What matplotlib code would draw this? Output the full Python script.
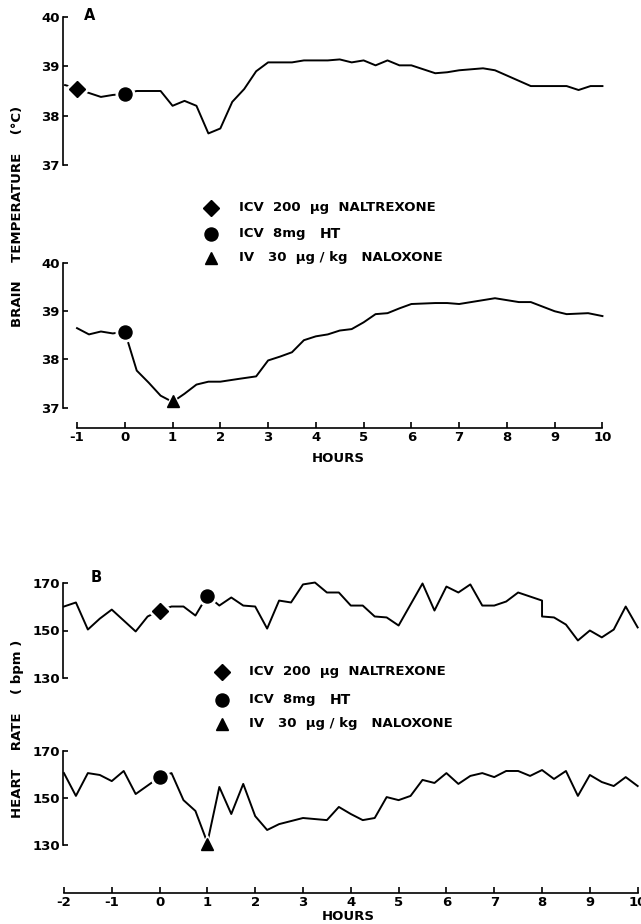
import numpy as np
import matplotlib
matplotlib.use("Agg")
import matplotlib.pyplot as plt

plt.rcParams['font.family'] = ['DejaVu Sans']
plt.rcParams['axes.unicode_minus'] = False

# panel A, upper trace: brain temperature (deg C) vs hours
a1_hours = [-1.25, -1.0, -0.75, -0.5, -0.25, 0.0, 0.25, 0.75, 1.0, 1.25, 1.5, 1.75, 2.0,
            2.25, 2.5, 2.75, 3.0, 3.5, 3.75, 4.0, 4.25, 4.5, 4.75, 5.0, 5.25, 5.5, 5.75,
            6.0, 6.5, 6.75, 7.0, 7.5, 7.75, 8.5, 9.25, 9.5, 9.75, 10.0]
a1_temp = [38.62, 38.55, 38.46, 38.38, 38.42, 38.44, 38.5, 38.5, 38.2, 38.3, 38.2, 37.64, 37.74,
           38.28, 38.54, 38.9, 39.08, 39.08, 39.12, 39.12, 39.12, 39.14, 39.08, 39.12, 39.02, 39.12, 39.02,
           39.02, 38.86, 38.88, 38.92, 38.96, 38.92, 38.6, 38.6, 38.52, 38.6, 38.6]

# panel A, lower trace
a2_hours = [-1.0, -0.75, -0.5, -0.25, 0.0, 0.25, 0.5, 0.75, 1.0, 1.25, 1.5, 1.75, 2.0, 2.4,
            2.75, 3.0, 3.25, 3.5, 3.75, 4.0, 4.25, 4.5, 4.75, 5.0, 5.25, 5.5, 5.75, 6.0,
            6.5, 6.75, 7.0, 7.25, 7.75, 8.0, 8.25, 8.5, 9.0, 9.25, 9.7, 10.0]
a2_temp = [38.65, 38.52, 38.58, 38.54, 38.58, 37.77, 37.52, 37.25, 37.12, 37.29, 37.48, 37.54, 37.54, 37.6,
           37.65, 37.98, 38.06, 38.15, 38.4, 38.48, 38.52, 38.6, 38.63, 38.77, 38.94, 38.96, 39.06, 39.15,
           39.17, 39.17, 39.15, 39.19, 39.27, 39.23, 39.19, 39.19, 39.0, 38.94, 38.96, 38.9]

# panel B, upper trace: heart rate (bpm)
b1_hours = [-2.0, -1.75, -1.5, -1.25, -1.0, -0.75, -0.5, -0.25, 0.0, 0.25, 0.5, 0.75,
            1.0, 1.25, 1.5, 1.75, 2.0, 2.25, 2.5, 2.75, 3.0, 3.25, 3.5, 3.75,
            4.0, 4.25, 4.5, 4.75, 5.0, 5.5, 5.75, 6.0, 6.25, 6.5, 6.75, 7.0, 7.25, 7.5,
            8.0, 8.0, 8.25, 8.5, 8.75, 9.0, 9.25, 9.5, 9.75, 10.0]
b1_rate = [160.1, 161.8, 150.4, 155.0, 158.8, 154.2, 149.6, 155.9, 158.4, 160.1, 160.1, 156.3,
           164.7, 160.5, 163.9, 160.5, 160.1, 150.8, 162.6, 161.8, 169.4, 170.2, 166.0, 166.0,
           160.5, 160.5, 155.9, 155.5, 152.1, 169.8, 158.4, 168.5, 166.0, 169.4, 160.5, 160.5, 162.2, 166.0,
           162.6, 155.9, 155.5, 152.5, 145.8, 150.0, 147.1, 150.4, 160.1, 151.3]

# panel B, lower trace
b2_hours = [-2.0, -1.75, -1.5, -1.25, -1.0, -0.75, -0.5, 0.0, 0.25, 0.5, 0.75,
            1.0, 1.25, 1.5, 1.75, 2.0, 2.25, 2.5, 3.0, 3.5, 3.75, 4.0, 4.25, 4.5, 4.75,
            5.0, 5.25, 5.5, 5.75, 6.0, 6.25, 6.5, 6.75, 7.0, 7.25, 7.5, 7.75,
            8.0, 8.25, 8.5, 8.75, 9.0, 9.25, 9.5, 9.75, 10.0]
b2_rate = [160.6, 150.9, 160.6, 159.8, 157.2, 161.5, 151.7, 158.9, 160.6, 149.1, 144.5,
           131.0, 154.7, 143.2, 156.0, 142.3, 136.4, 138.9, 141.5, 140.6, 146.2, 143.2, 140.6, 141.5, 150.4,
           149.1, 150.9, 157.7, 156.4, 160.6, 156.0, 159.4, 160.6, 158.9, 161.5, 161.5, 159.4,
           161.9, 158.1, 161.5, 150.9, 159.8, 156.8, 155.1, 158.9, 155.1]

# injection markers (hour, value)
a1_naltrexone = ([-1.0], [38.55])
a1_ht = ([0.0], [38.44])
a2_ht = ([0.0], [38.58])
a2_naloxone = ([1.0], [37.14])
b1_naltrexone = ([0.0], [158.4])
b1_ht = ([1.0], [164.7])
b2_ht = ([0.0], [158.9])
b2_naloxone = ([1.0], [130.4])

a_yticks = [37, 38, 39, 40]
b_yticks = [130, 150, 170]
a_xticks = list(range(-1, 11))
b_xticks = list(range(-2, 11))

legend_lines = ["ICV  200  \u03bcg  NALTREXONE", "ICV  8mg   ", "IV   30  \u03bcg / kg   NALOXONE"]

W, H = 641, 924
fig = plt.figure(figsize=(W / 100, H / 100), dpi=100)


def box(left, top, right, bottom):
    return [left / W, 1 - bottom / H, (right - left) / W, (bottom - top) / H]


SIZES = {'D': 8.6, 'o': 9.4, '^': 9.2}


def mark(ax, pt, m):
    ax.plot(pt[0], pt[1], ls='none', marker=m, ms=SIZES[m] + 4, color='white',
            mec='white', zorder=3, clip_on=False)
    ax.plot(pt[0], pt[1], ls='none', marker=m, ms=SIZES[m], color='black',
            mec='black', zorder=4, clip_on=False)


def style(ax, yticks, ybounds, xticks=None):
    for s in ['top', 'right']:
        ax.spines[s].set_visible(False)
    ax.spines['left'].set_bounds(*ybounds)
    ax.spines['left'].set_linewidth(1.2)
    ax.set_yticks(yticks)
    ax.tick_params(axis='y', direction='in', length=3.5, width=1.2, pad=2,
                   labelsize=9.5)
    for lab in ax.get_yticklabels():
        lab.set_fontweight('bold')
    ax.patch.set_visible(False)
    if xticks is None:
        ax.spines['bottom'].set_visible(False)
        ax.set_xticks([])
    else:
        ax.spines['bottom'].set_bounds(xticks[0], xticks[-1])
        ax.spines['bottom'].set_linewidth(1.2)
        ax.set_xticks(xticks)
        ax.tick_params(axis='x', direction='in', length=4.5, width=1.2, pad=2,
                       labelsize=9.5)
        for lab in ax.get_xticklabels():
            lab.set_fontweight('bold')


lw = 1.4

# panel A
axA1 = fig.add_axes(box(62.7, 17, 612, 165))
axA1.plot(a1_hours, a1_temp, color='black', lw=lw, clip_on=False)
axA1.set_xlim(-1.3, 10.2)
axA1.set_ylim(37, 40)
style(axA1, a_yticks, (37, 40))
mark(axA1, a1_naltrexone, 'D')
mark(axA1, a1_ht, 'o')

axA2 = fig.add_axes(box(62.7, 263, 612, 428))
axA2.plot(a2_hours, a2_temp, color='black', lw=lw, clip_on=False)
axA2.set_xlim(-1.3, 10.2)
axA2.set_ylim(36.58, 40)
style(axA2, a_yticks, (37, 40), a_xticks)
mark(axA2, a2_ht, 'o')
mark(axA2, a2_naloxone, '^')

# panel B
axB1 = fig.add_axes(box(63, 583, 641, 678))
axB1.plot(b1_hours, b1_rate, color='black', lw=lw, clip_on=False)
axB1.set_xlim(-2.02, 10.07)
axB1.set_ylim(130, 170)
style(axB1, b_yticks, (130, 170))
mark(axB1, b1_naltrexone, 'D')
mark(axB1, b1_ht, 'o')

axB2 = fig.add_axes(box(63, 751, 641, 893))
axB2.plot(b2_hours, b2_rate, color='black', lw=lw, clip_on=False)
axB2.set_xlim(-2.02, 10.07)
axB2.set_ylim(109.6, 170)
style(axB2, b_yticks, (130, 170), b_xticks)
mark(axB2, b2_ht, 'o')
mark(axB2, b2_naloxone, '^')

# overlay in pixel coordinates for labels and keys
ov = fig.add_axes([0, 0, 1, 1], zorder=-1)
ov.set_xlim(0, W)
ov.set_ylim(H, 0)
ov.axis('off')

txt = dict(fontsize=9.5, fontweight='bold', va='center', ha='left')
for (mx, tx, rows) in [(211, 239, (208, 234, 258)), (222, 249, (672, 700, 724))]:
    for m, y, s in zip(['D', 'o', '^'], rows, legend_lines):
        ov.plot([mx], [y], ls='none', marker=m, ms=SIZES[m], color='black')
        t = ov.text(tx, y, s, **txt)
        if m == 'o':
            fig.canvas.draw()
            bb = t.get_window_extent()
            ov.text(tx + bb.width, y, "HT", fontsize=10, fontweight='heavy',
                    va='center', ha='left')

ov.text(90, 15, "A", fontsize=10.5, fontweight='bold', ha='center', va='center')
ov.text(96, 578, "B", fontsize=10.5, fontweight='bold', ha='center', va='center')
ov.text(338, 458, "HOURS", fontsize=9.5, fontweight='bold', ha='center', va='center')
ov.text(348, 917, "HOURS", fontsize=9.5, fontweight='bold', ha='center', va='center')
ov.text(18, 216, "BRAIN    TEMPERATURE    (\u00b0C)", rotation=90, fontsize=9.5,
        fontweight='bold', ha='center', va='center')
ov.text(18, 729, "HEART    RATE    ( bpm )", rotation=90, fontsize=9.5,
        fontweight='bold', ha='center', va='center')

fig.savefig("out.png", dpi=100)
